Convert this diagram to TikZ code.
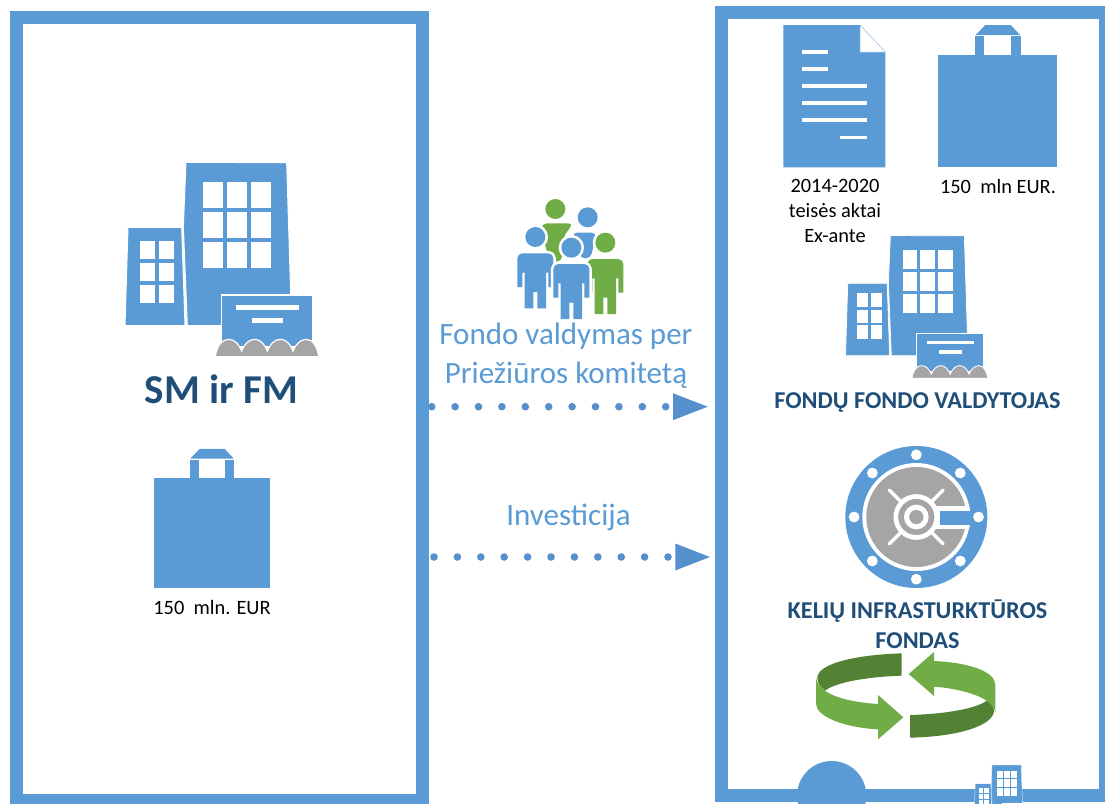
\documentclass[tikz,border=0pt]{standalone}
\usepackage{fontspec}
\setmainfont{Carlito}
\usetikzlibrary{arrows.meta}
\definecolor{mainblue}{HTML}{5B9BD5}
\definecolor{arrowblue}{HTML}{5590CC}
\definecolor{titleblue}{HTML}{1F4E79}
\definecolor{grayfill}{HTML}{A5A5A5}
\definecolor{lightgreen}{HTML}{70AD47}
\definecolor{darkgreen}{HTML}{548235}
\tikzset{
  framebox/.style={draw=mainblue,line width=13pt,inner sep=0pt,outer sep=0pt},
  dotflow/.style={arrowblue,line width=7.6pt,line cap=round,dash pattern=on 0pt off 23.4pt,
     -{Triangle[length=36pt,width=24.4pt]}},
  whitefill/.style={fill=white},
  bluefill/.style={fill=mainblue},
  flowlabel/.style={mainblue,anchor=base,font=\fontsize{31}{39}\selectfont,align=center,inner sep=0pt},
  smalllabel/.style={black,anchor=base,font=\fontsize{20.4}{25}\selectfont,align=center,inner sep=0pt},
  boldlabel/.style={titleblue,anchor=base,font=\fontsize{24.2}{30}\selectfont\bfseries,align=center,inner sep=0pt},
}
% building group; coordinates are in 1/3 px
\newcommand{\bldg}[3]{%
\begin{scope}[shift={(#1,#2)},scale=#3/3]
  \path[bluefill,draw=white,line width=#3*1pt] (54,232) -- (215,232) -- (225,527) -- (45,527) -- cycle;
  \path[bluefill,draw=white,line width=#3*1pt] (228,37) -- (530,38) -- (545,527) -- (232,527) -- (220,230) -- cycle;
  \foreach \wx in {278,350,422}{\foreach \wy in {97,187,276}{
    \path[whitefill] (\wx,\wy) rectangle ++(60,77);}}
  \foreach \wx in {90,148}{\foreach \wy in {273,339,404}{
    \path[whitefill] (\wx,\wy) rectangle ++(45,54);}}
  \path[bluefill,draw=white,line width=#3*1.2pt] (334,435) rectangle (607,590);
  \path[whitefill] (377,466) rectangle (568,481);
  \path[whitefill] (425,505) rectangle (520,520);
  \path[fill=grayfill,draw=white,line width=#3*1.2pt] (316,620) .. controls (320,590) and (335,568) .. (356,568)
    .. controls (375,568) and (388,585) .. (395,603) .. controls (402,585) and (415,568) .. (434,568)
    .. controls (452,568) and (465,585) .. (472,603) .. controls (479,585) and (492,568) .. (511,568)
    .. controls (530,568) and (543,585) .. (549,603) .. controls (556,585) and (570,568) .. (589,568)
    .. controls (608,568) and (622,590) .. (626,620) -- cycle;
\end{scope}}
% shopping bag; origin = top-left of body
\newcommand{\shopbag}[3]{%
\begin{scope}[shift={(#1,#2)},scale=#3]
  \path[bluefill] (0,0) rectangle (119,112.3);
  \path[bluefill] (36.7,-18.7) rectangle (46,0);
  \path[bluefill] (73,-18.7) rectangle (82.4,0);
  \path[bluefill] (37.4,-20) -- (47,-30) -- (72.4,-30) -- (81.7,-20) -- cycle;
\end{scope}}
% person body outline
\newcommand{\bodypath}{(-54,64) arc[start angle=180,end angle=270,radius=15] -- (39,49)
    arc[start angle=270,end angle=360,radius=15] -- (54,150) -- (39,150) -- (39,107) -- (32,107) -- (32,214) -- (6,214)
    -- (6,165) -- (-6,165) -- (-6,214) -- (-32,214) -- (-32,107) -- (-39,107) -- (-39,150) -- (-54,150) -- cycle}
% person; origin = head centre; 1/3 px
\newcommand{\persona}[3]{%
\begin{scope}[shift={(500,190)},scale=1/3]
\begin{scope}[shift={(#1,#2)}]
  \path[draw=white,fill=white,line width=5pt,line join=round] \bodypath;
  \path[fill=#3] \bodypath;
  \path[fill=white] (0,0) circle[radius=38];
  \path[fill=#3] (0,0) circle[radius=30];
\end{scope}
\end{scope}}
\begin{document}
\begin{tikzpicture}[x=1pt,y=-1pt]
\useasboundingbox (0,0) rectangle (1105,803);
\clip (0,0) rectangle (1105,803);
\fill[white] (0,0) rectangle (1105,803);

% frames
\node[framebox,minimum width=406pt,minimum height=783pt] (leftframe) at (219.5,409) {};
\node[framebox,minimum width=383.5pt,minimum height=783pt] (rightframe) at (913.25,404) {};

% bottom dome and bottom-right buildings
\path[bluefill] (831.7,795.6) circle[radius=34.6];
\bldg{970}{761.4}{0.29}

% left panel
\bldg{110}{150}{1}
\node[titleblue,anchor=base,inner sep=0pt,font=\fontsize{41}{43}\selectfont\bfseries] (smfm) at (221.5,403) {SM ir FM};
\shopbag{154}{478}{0.975}
\node[smalllabel] (leftsum) at (212,614) {150\ \ mln. EUR};

% people
\begin{scope}[shift={(500,190)},scale=1/3]
  \path[fill=lightgreen,rounded corners=5pt] (125,100) -- (220,100) -- (190,140) -- (185,215) -- (150,215) -- (125,130) -- cycle;
  \path[fill=lightgreen] (166,57) circle[radius=30];
  \path[fill=mainblue,rounded corners=5pt] (215,128) -- (290,128) -- (272,205) -- (240,205) -- (232,155) -- cycle;
  \path[fill=white] (263,82) circle[radius=34];
  \path[fill=mainblue] (263,82) circle[radius=30];
\end{scope}
\persona{106}{141}{mainblue}
\persona{316}{158}{lightgreen}
\persona{214}{173}{mainblue}

% middle labels and connectors
\node[flowlabel,anchor=north] (gov) at (566,323) {Fondo valdymas per\\Priežiūros komitetą};
\node[flowlabel] (inv) at (568.5,525) {Investicija};
\coordinate (flowAstart) at (431.7,406.7);
\coordinate (flowAend) at (709,406.7);
\coordinate (flowBstart) at (434,557);
\coordinate (flowBend) at (711.3,557);
\draw[dotflow] (flowAstart) -- (flowAend);
\draw[dotflow] (flowBstart) -- (flowBend);

% document
\path[bluefill] (783.3,25) -- (860,25) -- (885.3,52) -- (885.3,167.3) -- (783.3,167.3) -- cycle;
\path[whitefill,draw=mainblue!60,line width=.5pt] (860,25) -- (885.3,52) -- (860,52) -- cycle;
\path[whitefill] (801.7,50) rectangle (828,53.7);
\path[whitefill] (801.7,67.3) rectangle (828,71);
\foreach \ly in {84.3,101.3,118.3}{\path[whitefill] (801.7,\ly) rectangle (866.7,\ly+3.7);}
\path[whitefill] (840.3,135.7) rectangle (866.7,139.3);
\node[smalllabel,anchor=north] (rules) at (835,179) {2014-2020\\teisės aktai\\Ex-ante};

% bag right
\shopbag{938.3}{55}{1}
\node[smalllabel] (rightsum) at (998,193) {150\ \ mln EUR.};

% manager
\bldg{834.5}{226.5}{0.735}
\node[boldlabel] (manager) at (917.5,408) {FONDŲ FONDO VALDYTOJAS};

% vault
\begin{scope}[shift={(916.3,517)}]
  \path[bluefill] (0,0) circle[radius=71];
  \path[whitefill] (0,0) circle[radius=54];
  \path[fill=grayfill] (0,0) circle[radius=50];
  \begin{scope}
    \clip (0,0) circle[radius=54];
    \path[whitefill] (20,-11) rectangle (55,12.3);
  \end{scope}
  \path[bluefill] (23.7,-6) rectangle (58,8);
  \foreach \a in {0,45,...,315}{\path[whitefill] (\a:62.2) circle[radius=5.4];}
  \foreach \a in {45,135,225,315}{\draw[white,line width=3.4pt,line cap=round] (\a:20) -- (\a:38);}
  \path[fill=grayfill,draw=white,line width=4.7pt] (0,0) circle[radius=20.5];
  \path[fill=grayfill,draw=white,line width=5pt] (0,0) circle[radius=9.8];
\end{scope}
\node[boldlabel,anchor=north] (fund) at (917.5,600) {KELIŲ INFRASTURKTŪROS\\FONDAS};

% cycle arrows
\begin{scope}[shift={(800,640)},scale=1/3]
  \path[fill=darkgreen] (305,40) .. controls (150,45) and (52,75) .. (52,113) .. controls (52,128) and (60,142) .. (75,152)
     .. controls (110,125) and (210,110) .. (305,107) -- cycle;
  \path[fill=lightgreen] (48,113) -- (48,190) .. controls (48,230) and (130,262) .. (234,268) -- (234,298) -- (310,232) -- (234,165) -- (234,192)
     .. controls (170,188) and (105,175) .. (75,152) .. controls (60,142) and (50,128) .. (48,113) -- cycle;
  \path[fill=darkgreen] (330,225) .. controls (440,222) and (530,205) .. (560,182) .. controls (575,192) and (582,200) .. (582,213)
     .. controls (580,255) and (480,290) .. (330,293) -- cycle;
  \path[fill=lightgreen] (326,102) -- (402,36) -- (402,63) .. controls (510,68) and (586,95) .. (586,135) -- (586,218)
     .. controls (582,200) and (575,192) .. (560,182) .. controls (530,162) and (470,145) .. (402,140) -- (402,168) -- cycle;
\end{scope}
\end{tikzpicture}
\end{document}
